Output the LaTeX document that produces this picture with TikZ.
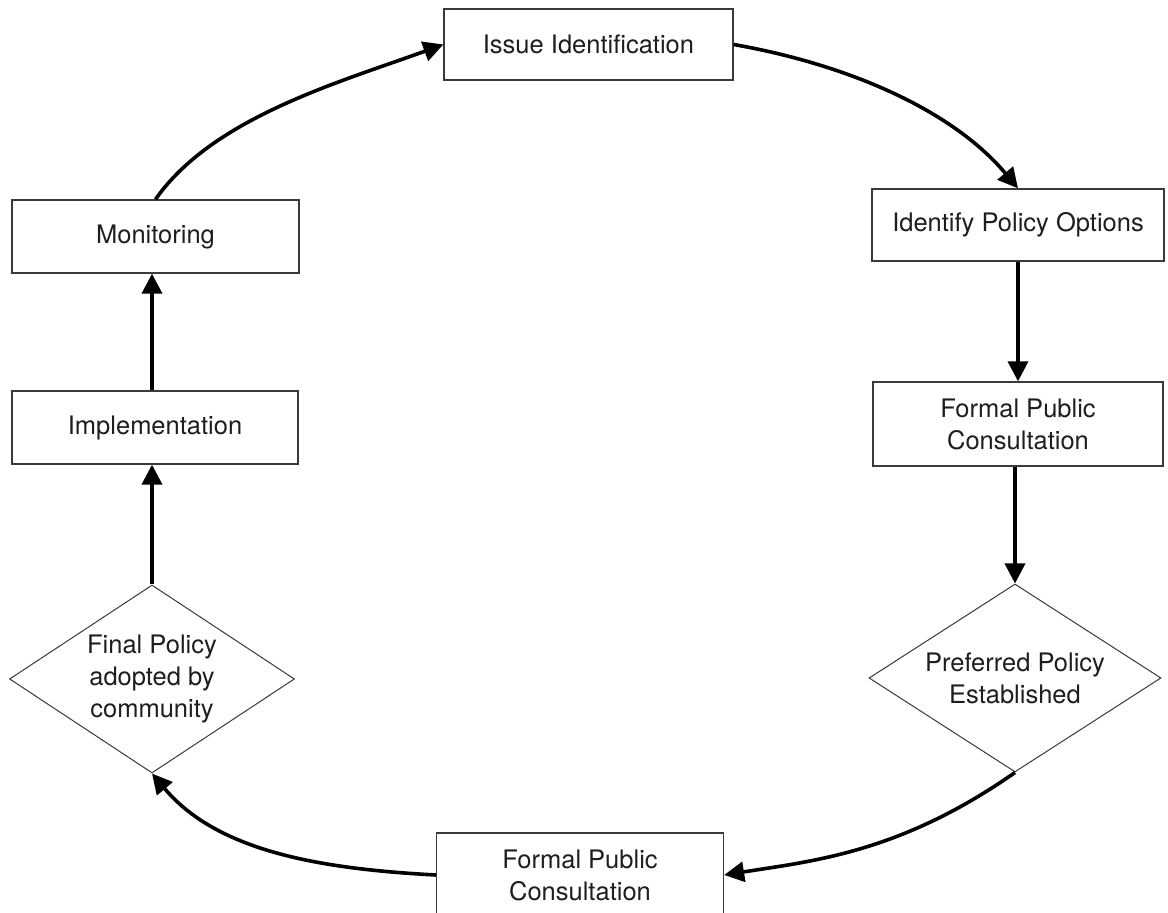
\documentclass[tikz,border=0pt]{standalone}
\usepackage{fontspec}
\setmainfont{TeX Gyre Heros}
\usetikzlibrary{shapes.geometric,arrows.meta}
\definecolor{inkline}{HTML}{3A3A3A}
\definecolor{inktext}{HTML}{1E1E1E}
\begin{document}
\begin{tikzpicture}[x=1pt,y=1pt,
  stage/.style={draw=inkline,line width=1.3pt,rectangle,align=center,
    text=inktext,font=\fontsize{25.5}{32}\selectfont,inner sep=0pt},
  decision/.style={stage,diamond,shape aspect=1.5,line width=1pt},
  flow/.style={line width=3.6pt,black,-{Triangle[length=20pt,width=20pt]}}]
\useasboundingbox (0,0) rectangle (1168,913);
\fill[white] (0,0) rectangle (1168,913);
\clip (0,0) rectangle (1168,913);

% stages of the policy cycle
\node[stage,minimum width=289pt,minimum height=71pt] (issue) at (588.5,868.5) {Issue Identification};
\node[stage,minimum width=292pt,minimum height=72pt] (options) at (1018,688) {Identify Policy Options};
\node[stage,minimum width=290pt,minimum height=84pt] (consultA) at (1018,489) {Formal Public\\Consultation};
\node[decision,minimum width=292pt,minimum height=188pt] (preferred) at (1015,235) {Preferred Policy\\Established};
\node[stage,minimum width=287pt,minimum height=84pt] (consultB) at (580,38) {Formal Public\\Consultation};
\node[decision,minimum width=285pt,minimum height=188pt] (final) at (152,234) {Final Policy\\adopted by\\community};
\node[stage,minimum width=286pt,minimum height=73pt] (impl) at (155,485.5) {Implementation};
\node[stage,minimum width=287pt,minimum height=73pt] (monitor) at (155.5,676.5) {Monitoring};

% connectors
\draw[flow] (monitor.north) .. controls +(55:100pt) and +(200:110pt) .. (issue.west);
\draw[flow] (issue.east) .. controls +(-10:120pt) and +(130:100pt) .. (options.north);
\draw[flow] (options.south) -- (consultA.north);
\draw[flow] (consultA.south -| preferred.north) -- (preferred.north);
\draw[flow] (preferred.south) .. controls +(215:140pt) and +(9:90pt) .. (consultB.east);
\draw[flow] (consultB.west) .. controls +(177:120pt) and +(310:100pt) .. (final.south);
\draw[flow] (final.north) -- (final.north |- impl.south);
\draw[flow] (final.north |- impl.north) -- (final.north |- monitor.south);
\end{tikzpicture}
\end{document}
